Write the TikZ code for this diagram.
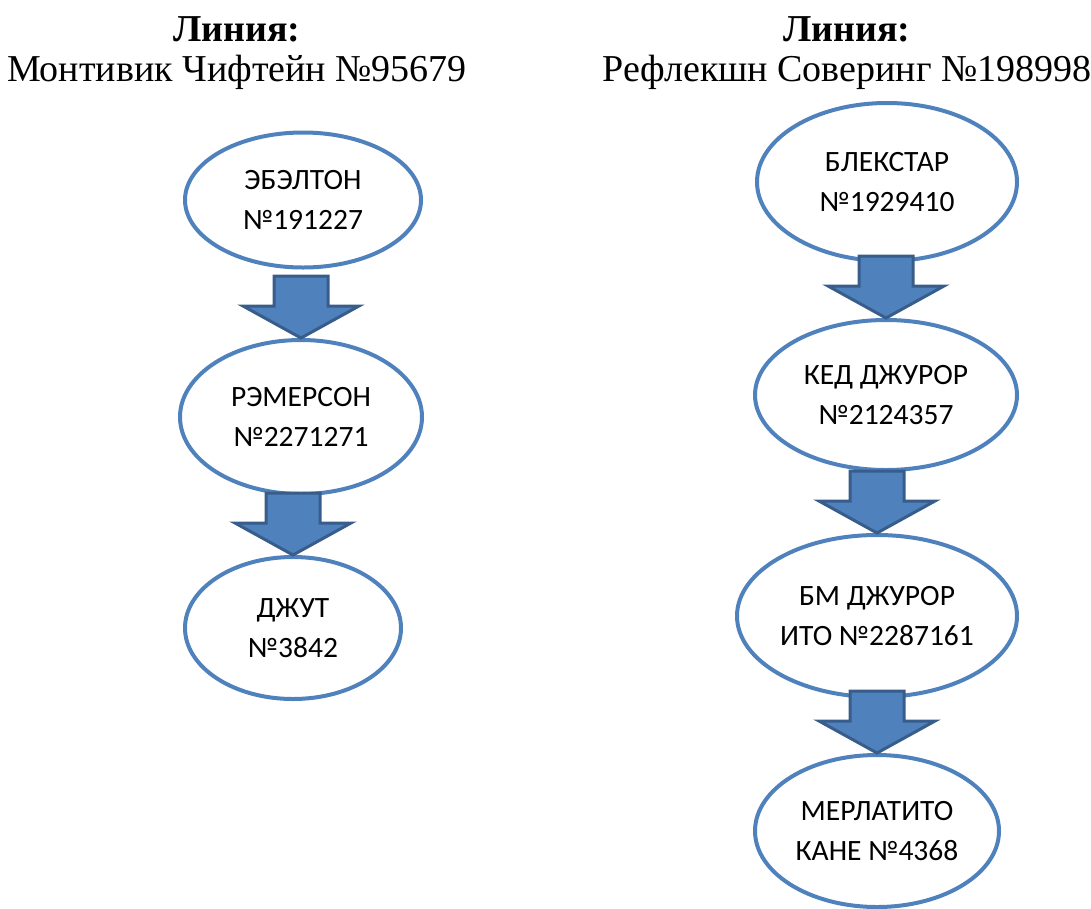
\documentclass[tikz,border=0pt]{standalone}
\usepackage{fontspec}
\setmainfont{Liberation Serif}
\newfontfamily\ovalfont{Carlito}
\usetikzlibrary{shapes.geometric}
\definecolor{ovalblue}{HTML}{4F81BD}
\definecolor{arrowdark}{HTML}{385D8A}
\tikzset{
  oval/.style={ellipse, draw=ovalblue, line width=4pt, inner xsep=-12pt, inner ysep=0pt,
    align=center, font=\ovalfont\fontsize{29.5}{40}\selectfont},
  headline/.style={align=center, inner sep=0pt, font=\fontsize{38}{40}\selectfont},
  blockdown/.style={fill=ovalblue, draw=arrowdark, line width=3pt, line join=miter}
}
% block arrow ending on the top of the next oval
\newcommand{\blockarrow}[1]{%
  \draw[blockdown] (#1.north) -- ++(-58,-32) -- ++(31,0) -- ++(0,-30)
    -- ++(54,0) -- ++(0,30) -- ++(31,0) -- cycle;}

\begin{document}
\begin{tikzpicture}[x=1pt,y=-1pt]
  \useasboundingbox (0,0) rectangle (1091,908);
  % left line
  \node[headline, anchor=north] (headL) at (237,16) {\textbf{Линия:}\\Монтивик Чифтейн №95679};
  \node[oval, minimum width=236pt, minimum height=135pt] (ebelton) at (303,200) {ЭБЭЛТОН\\№191227};
  \node[oval, minimum width=242pt, minimum height=154pt] (remerson) at (301,417) {РЭМЕРСОН\\№2271271};
  \node[oval, minimum width=216pt, minimum height=142pt] (dzhut) at (293,628) {ДЖУТ\\№3842};
  % right line
  \node[headline, anchor=north] (headR) at (847,16) {\textbf{Линия:}\\Рефлекшн Соверинг №198998};
  \node[oval, minimum width=260pt, minimum height=158pt] (blekstar) at (887,182) {БЛЕКСТАР\\№1929410};
  \node[oval, minimum width=262pt, minimum height=150pt] (kedzh) at (886,395) {КЕД ДЖУРОР\\№2124357};
  \node[oval, minimum width=280pt, minimum height=162pt] (bmzh) at (877,616) {БМ ДЖУРОР\\ИТО №2287161};
  \node[oval, minimum width=244pt, minimum height=152pt] (merlat) at (877,831) {МЕРЛАТИТО\\КАНЕ №4368};
  % arrows
  \blockarrow{remerson}
  \blockarrow{dzhut}
  \blockarrow{kedzh}
  \blockarrow{bmzh}
  \blockarrow{merlat}
\end{tikzpicture}
\end{document}
